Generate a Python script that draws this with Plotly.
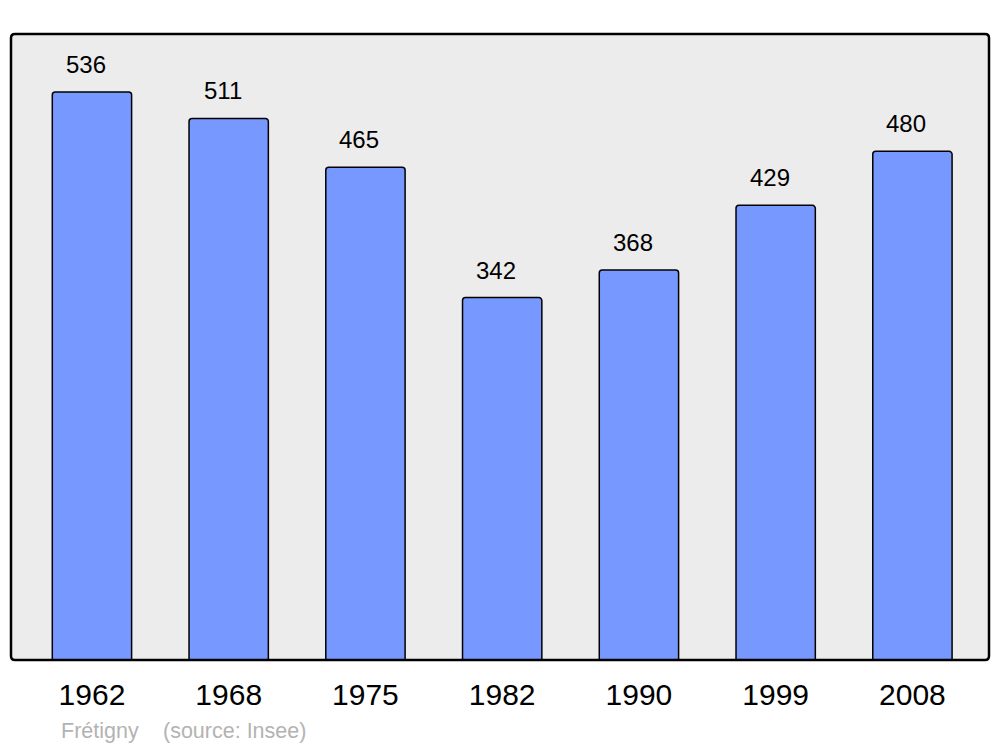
import plotly.graph_objects as go

years = ["1962", "1968", "1975", "1982", "1990", "1999", "2008"]
population = [536, 511, 465, 342, 368, 429, 480]
commune = "Frétigny"
source = "(source: Insee)"

fig = go.Figure()

fig.add_trace(go.Bar(x=years, y=population, width=0.58,
                     marker=dict(color="#7799ff", line=dict(color="black", width=1.5), cornerradius=3),
                     hoverinfo="x+y"))

# value labels above bars (category index as x)
for i, val in enumerate(population):
    fig.add_annotation(x=i, y=val, text=str(val), showarrow=False, yanchor="bottom", yshift=12, xshift=-6,
                       font=dict(size=24, color="black", family="Liberation Sans"))

fig.add_annotation(xref="paper", yref="paper", x=0.049, y=-0.091, xanchor="left", yanchor="top",
                   text=commune, showarrow=False, font=dict(size=21.5, color="#b3b3b3", family="Liberation Sans"))
fig.add_annotation(xref="paper", yref="paper", x=0.153, y=-0.091, xanchor="left", yanchor="top",
                   text=source, showarrow=False, font=dict(size=21.5, color="#b3b3b3", family="Liberation Sans"))

# frame of the plot area, rounded corners, drawn in pixels from the bottom-left corner
w, h, r = 978, 626, 4
frame = (f"M {r},0 L {w-r},0 Q {w},0 {w},{r} L {w},{h-r} Q {w},{h} {w-r},{h} "
         f"L {r},{h} Q 0,{h} 0,{h-r} L 0,{r} Q 0,0 {r},0 Z")
fig.add_shape(type="path", xref="paper", yref="paper", xsizemode="pixel", ysizemode="pixel",
              xanchor=0, yanchor=0, path=frame, line=dict(color="black", width=2.5), layer="above")

fig.update_layout(width=1000, height=747, margin=dict(l=11, r=11, t=34, b=87),
                  paper_bgcolor="white", plot_bgcolor="#ececec", showlegend=False,
                  font=dict(family="Liberation Sans", color="black"))
fig.update_xaxes(type="category", range=[-0.592, 6.56], showgrid=False, ticks="",
                 tickfont=dict(size=30), ticklabelstandoff=14)
fig.update_yaxes(range=[0, 590.7], showgrid=False, showticklabels=False, zeroline=False)

fig.write_html("out.html", config={"displayModeBar": False},
               post_script="document.body.style.margin='0';")
